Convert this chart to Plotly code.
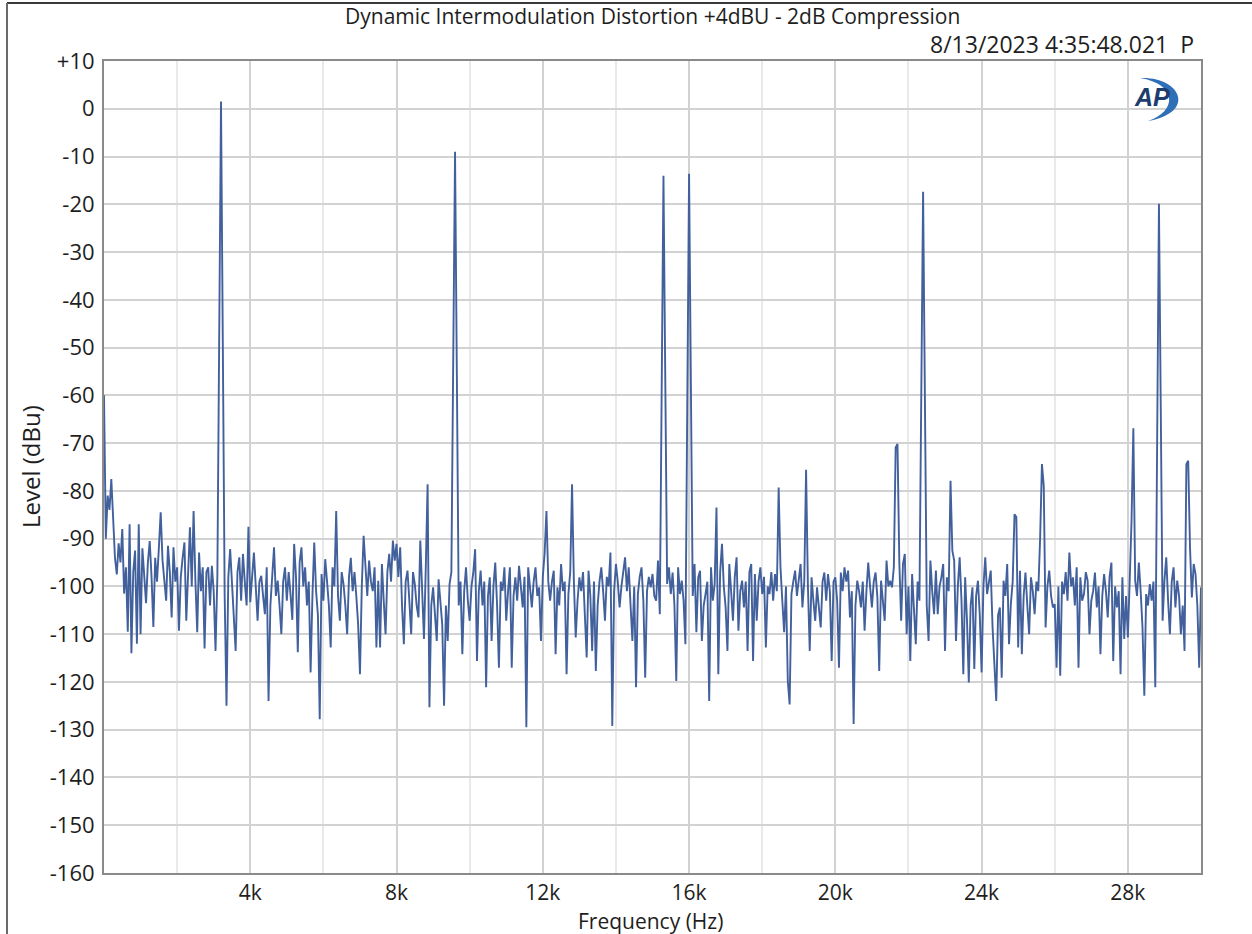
import plotly.graph_objects as go

# ---------------- data (levels in dBu on a 50 Hz grid) ----------------
freq_step_hz = 50

level_00k_02k = [-60, -90, -81, -84, -77.5, -86, -94, -97.5, -91, -95,
                 -88, -101.5, -96, -109.5, -87, -114, -97, -92.5, -112, -87,
                 -110, -92, -99, -103.5, -95, -90.5, -98, -108.5, -94, -99,
                 -92, -84.5, -94.5, -99, -103, -91.5, -97, -106.5, -91.8, -99]
level_02k_04k = [-96, -109.3, -98, -94, -90.8, -107.2, -95, -87.6, -100, -84.2,
                 -99, -109.6, -92.9, -101, -96, -113, -97, -96, -104, -95.7,
                 -101, -113.5, -98, -48, 1.5, -50, -102, -125, -98, -92.2,
                 -100, -106, -113.5, -97, -93.9, -103, -93.2, -99, -104, -87.5]
level_04k_06k = [-103.3, -98, -92.9, -100, -107.2, -99, -97.8, -102, -105.8, -96,
                 -124, -104, -98, -91.8, -102, -98.8, -104, -110, -99, -96,
                 -103, -97, -101.6, -107, -91.1, -98, -113.8, -95, -91.8, -100,
                 -96, -104, -99, -118, -102, -90.8, -101, -106, -127.8, -97.4]
level_06k_08k = [-103, -94.3, -99, -104, -112.8, -96, -100, -84.2, -102, -107.2,
                 -97, -99.5, -104, -110, -98, -94, -101, -97, -102, -108,
                 -118.4, -100, -89.4, -97, -102, -94.6, -99, -101, -96, -112.8,
                 -98.8, -112.8, -95.3, -103, -110, -97, -93.2, -99, -90.4, -94.6]
level_08k_10k = [-91.1, -98, -91.8, -104, -112.1, -99, -96.7, -103, -110, -97,
                 -99.5, -104, -106.5, -90.4, -100, -111, -96, -78.6, -125.3, -104,
                 -100.2, -106, -111.4, -98.5, -103, -108, -125, -104, -111.4, -99.5,
                 -97, -53, -9, -56, -104, -99, -114.2, -101, -96, -103]
level_10k_12k = [-107.2, -100, -97, -92.2, -115.6, -101, -96.7, -104, -99, -121.1,
                 -102, -98.1, -111.4, -100, -95, -104, -117, -99, -100.9, -96,
                 -107.2, -101, -96, -117, -102, -98.1, -103, -95.7, -100, -104.4,
                 -98, -129.5, -96, -101, -104.4, -99, -96, -102, -100.2, -111.4]
level_12k_14k = [-98, -93, -84.2, -99, -103, -99, -96.7, -114.2, -100.2, -104,
                 -95.3, -101, -99, -118.4, -101.6, -97, -78.6, -99, -110.7, -103,
                 -98.1, -101, -97, -106, -114.9, -96.7, -102, -113.5, -99, -117.7,
                 -104, -99, -96, -101, -107.2, -98, -100, -92.9, -129.2, -101]
level_14k_16k = [-95.3, -99, -104.4, -100, -97, -93.9, -101, -96, -104, -111.4,
                 -100, -121.1, -101.6, -98, -96, -103, -119.1, -101, -98, -100.2,
                 -97.4, -102, -103, -94.6, -105.8, -60, -14, -57, -99.5, -96,
                 -101.6, -97.1, -104, -119.8, -96, -101.6, -98.8, -103, -112.1, -63]
level_16k_18k = [-13.6, -58, -102, -95.3, -109.6, -98.1, -96.7, -111.4, -104, -101.6,
                 -99, -124, -96, -103, -99.5, -83.5, -118.4, -97, -91.1, -100,
                 -104.4, -113.5, -95.3, -101, -107.2, -98, -93.9, -109.3, -101, -98.8,
                 -104.4, -99, -113.5, -97, -95.3, -115.6, -97.4, -107.2, -99, -96]
level_18k_20k = [-101.6, -98, -112.8, -100, -101.6, -97, -103, -97.4, -101, -79.3,
                 -96, -103, -109.6, -100, -119.8, -124.7, -101.6, -99, -96.7, -102,
                 -99, -95.3, -104.4, -99, -75.6, -100, -113.5, -98.1, -103, -107.2,
                 -100.2, -104, -108.6, -99, -97.1, -103, -97.4, -101, -115.6, -99]
level_20k_22k = [-98.1, -103, -117, -97.1, -101, -96, -99, -96.7, -106.5, -101,
                 -128.8, -104, -98.8, -101, -104.4, -99, -109.3, -101, -95, -100,
                 -104.4, -99, -97.1, -102.3, -117.7, -98.8, -103, -107.2, -94.6, -100,
                 -98.8, -100.2, -96, -70.9, -70.2, -95, -107.2, -95.3, -93.2, -110]
level_22k_24k = [-100, -115.6, -97.4, -104, -112.1, -99, -103, -60, -17.4, -61,
                 -104, -111.4, -94.6, -101, -105.8, -96.7, -105.8, -100, -98.1, -95.3,
                 -113.5, -98.1, -101, -77.9, -92.5, -94.6, -111.4, -100, -93.9, -103,
                 -118.4, -98.1, -107, -120.1, -104, -100.2, -117.3, -102, -98.8, -106]
level_24k_26k = [-118, -100, -93.9, -101.6, -99, -96.7, -108.6, -115.6, -124, -106,
                 -104.4, -119.1, -98.8, -102, -95.3, -112.1, -103.7, -99, -84.9, -85.5,
                 -112.8, -96.7, -114.2, -102, -97.1, -104, -110, -98.1, -101, -105.8,
                 -99, -101, -90, -74.4, -79, -108.6, -100, -96.7, -102, -104.4]
level_26k_28k = [-103.7, -117, -100, -118.7, -99, -101.6, -97, -103, -92.9, -100,
                 -98.1, -104, -96, -117, -98.1, -103, -101.6, -97, -98.8, -110,
                 -103, -101, -97.1, -104.4, -100, -114.2, -102, -97.4, -101, -106.5,
                 -98, -95, -115.6, -100, -104.4, -101, -118.4, -98.1, -111, -102]
level_28k_30k = [-110.7, -98.8, -86.3, -66.9, -98.8, -102, -95, -101, -108.6, -122.9,
                 -101.6, -104, -99.5, -103, -99, -121.1, -66, -19.9, -63, -107.2,
                 -98.8, -93.9, -103, -110, -99, -96, -104.4, -98.8, -102, -110,
                 -104, -113.5, -74.4, -73.7, -92, -102.3, -95.3, -97.4, -104, -117,
                 -100.2]

segments = [level_00k_02k, level_02k_04k, level_04k_06k, level_06k_08k,
            level_08k_10k, level_10k_12k, level_12k_14k, level_14k_16k,
            level_16k_18k, level_18k_20k, level_20k_22k, level_22k_24k,
            level_24k_26k, level_26k_28k, level_28k_30k]
levels = [v for seg in segments for v in seg]
freqs = [i * freq_step_hz for i in range(len(levels))]

x_tick_vals = [4000, 8000, 12000, 16000, 20000, 24000, 28000]
x_tick_text = ["4k", "8k", "12k", "16k", "20k", "24k", "28k"]
y_tick_vals = list(range(-160, 11, 10))
y_tick_text = ["+10" if v > 0 else str(v) for v in y_tick_vals]

title_text = "Dynamic Intermodulation Distortion +4dBU - 2dB Compression"
stamp_text = "8/13/2023 4:35:48.021  P"

# ---------------- layout helpers ----------------
W, H = 1252, 934
L, R, T, B = 104, 1201, 61, 873


def px(xp):
    return (xp - L) / (R - L)


def py(yp):
    return (B - yp) / (B - T)


FONT = "Open Sans"
TXT = "#1e1e1e"

fig = go.Figure()
fig.add_trace(go.Scatter(x=freqs, y=levels, mode="lines",
                         line=dict(color="#42609c", width=1.9),
                         hoverinfo="skip", showlegend=False))

fig.update_layout(
    width=W, height=H, autosize=False,
    margin=dict(l=L, r=W - R, t=T, b=H - B, pad=0),
    paper_bgcolor="white", plot_bgcolor="white",
    font=dict(family=FONT, size=22, color=TXT),
    showlegend=False,
)
fig.update_xaxes(
    range=[0, 30000], tickmode="array", tickvals=x_tick_vals, ticktext=x_tick_text,
    showgrid=True, gridcolor="#d2d2d2", gridwidth=1.5,
    minor=dict(tickmode="linear", tick0=0, dtick=2000, showgrid=True,
               gridcolor="#e9e9e9", gridwidth=1.5),
    showline=True, linecolor="#8a8a8a", linewidth=2, mirror=True,
    ticks="", zeroline=False, ticklabelstandoff=0,
    tickfont=dict(family=FONT, size=21, color=TXT),
)
fig.update_yaxes(
    range=[-160, 10], tickmode="array", tickvals=y_tick_vals, ticktext=y_tick_text,
    showgrid=True, gridcolor="#d2d2d2", gridwidth=1.5,
    showline=True, linecolor="#8a8a8a", linewidth=2, mirror=True,
    ticks="", zeroline=False, ticklabelstandoff=3,
    tickfont=dict(family=FONT, size=22, color=TXT),
)

ann = [
    dict(text=title_text, x=px(652), y=py(16), xanchor="center", yanchor="middle",
         font=dict(size=21)),
    dict(text=stamp_text, x=px(1196), y=py(44), xanchor="right", yanchor="middle",
         font=dict(size=23)),
    dict(text="Level (dBu)", x=px(30), y=py(467), xanchor="center", yanchor="middle",
         textangle=-90, font=dict(size=24)),
    dict(text="Frequency (Hz)", x=px(650), y=py(921), xanchor="center", yanchor="middle",
         font=dict(size=21)),
    dict(text="<b><i>AP</i></b>", x=px(1152), y=py(97), xanchor="center", yanchor="middle",
         font=dict(size=25, color="#1d3d6c", family="Liberation Sans")),
]
for a in ann:
    a.update(xref="paper", yref="paper", showarrow=False)
fig.update_layout(annotations=ann)


# AP logo swoosh
def P(xp, yp):
    return f"{px(xp):.5f},{py(yp):.5f}"


swoosh = ("M " + P(1140, 78) + " C " + P(1180, 76) + " " + P(1198, 112) + " " + P(1148, 121)
          + " C " + P(1178, 111) + " " + P(1177, 84) + " " + P(1140, 78) + " Z")
shapes = [
    dict(type="path", path=swoosh, xref="paper", yref="paper",
         fillcolor="#2f6fb8", line=dict(width=0)),
    dict(type="line", xref="paper", yref="paper", x0=px(7), x1=px(1252), y0=py(3), y1=py(3),
         line=dict(color="#3a3a3a", width=2)),
    dict(type="line", xref="paper", yref="paper", x0=px(7), x1=px(7), y0=py(3), y1=py(934),
         line=dict(color="#6a6a6a", width=2)),
]
fig.update_layout(shapes=shapes)

fig.write_html("out.html")
